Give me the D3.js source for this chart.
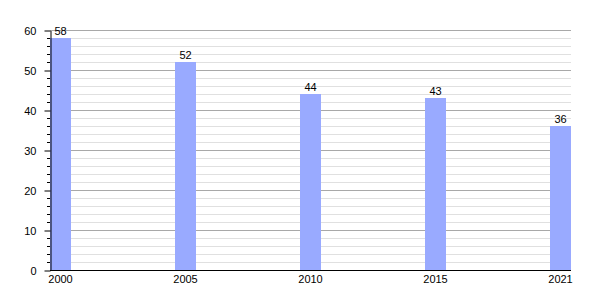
<!DOCTYPE html>
<html>
<head>
<meta charset="utf-8">
<script src="https://cdn.jsdelivr.net/npm/d3@7"></script>
<style>
body{margin:0;background:#fff;}
text{font-family:"Liberation Sans",Arial,sans-serif;font-size:11px;fill:#000;}
</style>
</head>
<body>
<svg id="chart" width="600" height="300"></svg>
<script>
var years = ['2000','2005','2010','2015','2021'];
var values = [58, 52, 44, 43, 36];
var majorTicks = [0,10,20,30,40,50,60];

// note: "top" is taken by window.top, so use plot* names
var plotLeft = 50, plotRight = 571, plotTop = 30, plotBottom = 270;
var svg = d3.select('#chart');

var x = d3.scaleBand().domain(years).range([plotLeft, plotRight]).paddingInner(0.832).paddingOuter(0);
var y = d3.scaleLinear().domain([0, 60]).range([plotBottom, plotTop]);

var minor = d3.range(0, 61, 2).filter(function(d){ return d % 10 != 0; });

// minor grid
svg.append('g').selectAll('line').data(minor).enter().append('line')
	.attr('x1', plotLeft).attr('x2', plotRight)
	.attr('y1', function(d){ return y(d) + 0.5; })
	.attr('y2', function(d){ return y(d) + 0.5; })
	.attr('stroke', '#e0e0e0').attr('stroke-width', 1);

// major grid
svg.append('g').selectAll('line').data(majorTicks.slice(1)).enter().append('line')
	.attr('x1', plotLeft).attr('x2', plotRight)
	.attr('y1', function(d){ return y(d) + 0.5; })
	.attr('y2', function(d){ return y(d) + 0.5; })
	.attr('stroke', '#a8a8a8').attr('stroke-width', 1);

// bars
svg.append('g').selectAll('rect').data(values).enter().append('rect')
	.attr('x', function(d, i){ return x(years[i]); })
	.attr('y', function(d){ return y(d); })
	.attr('width', x.bandwidth())
	.attr('height', function(d){ return plotBottom - y(d); })
	.attr('fill', '#99aaff');

// value labels
svg.append('g').selectAll('text').data(values).enter().append('text')
	.attr('x', function(d, i){ return x(years[i]) + x.bandwidth() / 2; })
	.attr('y', function(d){ return y(d) - 3; })
	.attr('text-anchor', 'middle')
	.text(function(d){ return d; });

// y axis minor ticks
svg.append('g').selectAll('line').data(minor).enter().append('line')
	.attr('x1', plotLeft - 3).attr('x2', plotLeft)
	.attr('y1', function(d){ return y(d) + 0.5; })
	.attr('y2', function(d){ return y(d) + 0.5; })
	.attr('stroke', '#000');

var yAxis = svg.append('g')
	.attr('transform', 'translate(' + (plotLeft + 0.5) + ',0.5)')
	.call(d3.axisLeft(y).tickValues(majorTicks).tickSize(6).tickPadding(8).tickSizeOuter(0));
yAxis.select('.domain').attr('stroke', '#000');
yAxis.selectAll('text').style('font-size', '11px').attr('dy', '0.35em').attr('font-family', null);

// x axis
var xAxis = svg.append('g')
	.attr('transform', 'translate(0,' + (plotBottom + 0.5) + ')')
	.call(d3.axisBottom(x).tickSize(0).tickPadding(5).tickSizeOuter(0));
xAxis.select('.domain').attr('d', 'M' + plotLeft + ',0H' + plotRight).attr('stroke', '#000');
xAxis.selectAll('text').style('font-size', '11px').attr('font-family', null);
</script>
</body>
</html>
